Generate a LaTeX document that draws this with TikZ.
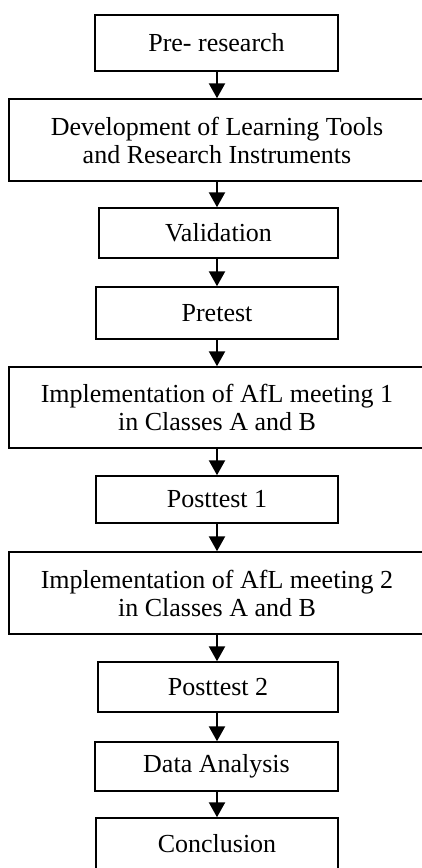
\documentclass[tikz,border=0pt]{standalone}
\usepackage{fontspec}
\setmainfont{Liberation Serif}
\usetikzlibrary{arrows.meta}
\begin{document}
\begin{tikzpicture}[x=1pt,y=-1pt,
  stepbox/.style={draw=black,line width=1.5pt,inner sep=0pt,align=center,
    font=\fontsize{26}{28}\selectfont},
  flow/.style={line width=2.4pt,-{Triangle[width=16pt,length=15pt]},shorten >=0pt}]
\useasboundingbox (0,0) rectangle (422,868);
\node[stepbox,minimum width=243pt,minimum height=56pt] (b1) at (216.5,43) {Pre- research};
\node[stepbox,minimum width=416pt,minimum height=82pt] (b2) at (217,140) {Development of Learning Tools\\and Research Instruments};
\node[stepbox,minimum width=239pt,minimum height=50pt] (b3) at (218.5,233) {Validation};
\node[stepbox,minimum width=242pt,minimum height=52pt] (b4) at (217,313) {Pretest};
\node[stepbox,minimum width=416pt,minimum height=81pt] (b5) at (217,407.5) {Implementation of AfL meeting 1\\in Classes A and B};
\node[stepbox,minimum width=242pt,minimum height=47pt] (b6) at (217,499.5) {Posttest 1};
\node[stepbox,minimum width=416pt,minimum height=82pt] (b7) at (217,593) {Implementation of AfL meeting 2\\in Classes A and B};
\node[stepbox,minimum width=240pt,minimum height=50pt] (b8) at (218,687) {Posttest 2};
\node[stepbox,minimum width=243pt,minimum height=49pt] (b9) at (216.5,766.5) {Data Analysis};
\node[stepbox,minimum width=242pt,minimum height=52pt] (b10) at (217,844) {Conclusion};
\foreach \a/\b in {b1/b2,b2/b3,b3/b4,b4/b5,b5/b6,b6/b7,b7/b8,b8/b9,b9/b10}{
  \draw[flow] (\a.south -| 217,0) -- (\b.north -| 217,0);
}
\end{tikzpicture}
\end{document}
